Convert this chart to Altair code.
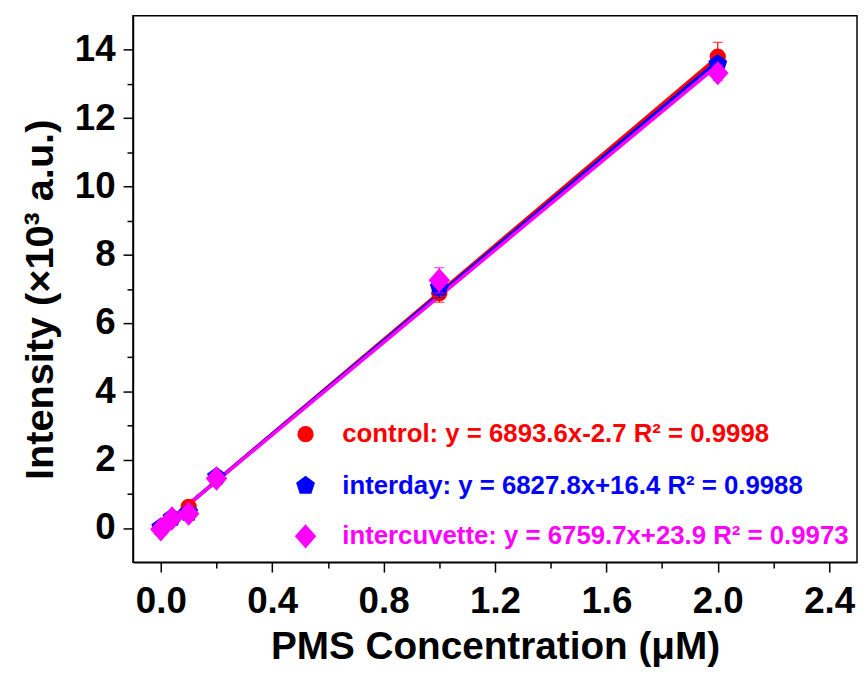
import altair as alt
import pandas as pd

# ---------------- data ----------------
conc = [0.0, 0.04, 0.1, 0.2, 1.0, 2.0]
series_names = ["control", "interday", "intercuvette"]
control = [-0.02, 0.27, 0.62, 1.45, 6.87, 13.80]
interday = [0.02, 0.30, 0.45, 1.50, 7.04, 13.58]
intercuvette = [-0.04, 0.28, 0.42, 1.45, 7.25, 13.32]
control_err = [0.04, 0.05, 0.08, 0.08, 0.26, 0.42]
interday_err = [0.04, 0.06, 0.06, 0.10, 0.30, 0.20]
intercuvette_err = [0.05, 0.05, 0.06, 0.08, 0.37, 0.22]
slopes = [6893.6, 6827.8, 6759.7]
intercepts = [-2.7, 16.4, 23.9]
r_squared = [0.9998, 0.9988, 0.9973]
fit_range = [0.0, 2.0]

x_ticks = [0.0, 0.4, 0.8, 1.2, 1.6, 2.0, 2.4]
x_minor = [0.2, 0.6, 1.0, 1.4, 1.8, 2.2]
y_ticks = [0, 2, 4, 6, 8, 10, 12, 14]
y_minor = [1, 3, 5, 7, 9, 11, 13]

x_title = "PMS Concentration (\u03bcM)"
y_title = "Intensity (\u00d710\u00b3 a.u.)"

# ---------------- styles ----------------
colors = ["#FF0000", "#0000FF", "#FF00FF"]
PENTAGON = "M0,-1L0.951,-0.309L0.588,0.809L-0.588,0.809L-0.951,-0.309Z"
DIAMOND = "M0,-1.13L1,0L0,1.13L-1,0Z"
shapes = ["circle", PENTAGON, DIAMOND]
sizes = [270, 400, 470]
FONT = "Liberation Sans"
W, H = 730, 551
legend_sym_x = 174
legend_txt_x = 211
legend_rows = [422, 474, 525]

values = [control, interday, intercuvette]
errors = [control_err, interday_err, intercuvette_err]

xscale = alt.Scale(domain=[-0.1, 2.5], nice=False, zero=False)
yscale = alt.Scale(domain=[-1, 15], nice=False, zero=False)

all_pts = pd.DataFrame({
    "x": conc * 3,
    "y": control + interday + intercuvette,
})

axes_main = alt.Chart(all_pts).mark_point(opacity=0).encode(
    x=alt.X("x:Q", scale=xscale, axis=alt.Axis(
        orient="bottom", values=x_ticks, format=".1f", grid=False,
        title=x_title, titleFont=FONT, titleFontSize=39, titleFontWeight="bold",
        titleColor="black", titlePadding=8,
        labelFont=FONT, labelFontSize=37, labelFontWeight="bold", labelColor="black",
        labelPadding=12, tickSize=10, tickWidth=1.5, tickColor="black",
        domainColor="black", domainWidth=1.5, labelFlush=False)),
    y=alt.Y("y:Q", scale=yscale, axis=alt.Axis(
        orient="left", values=y_ticks, format="d", grid=False,
        title=y_title, titleFont=FONT, titleFontSize=40, titleFontWeight="bold",
        titleColor="black", titleAngle=270, titleX=-81, titleY=286,
        titleBaseline="alphabetic", titleAlign="center",
        labelFont=FONT, labelFontSize=37, labelFontWeight="bold", labelColor="black",
        labelPadding=8, tickSize=10, tickWidth=1.5, tickColor="black",
        domainColor="black", domainWidth=1.5, labelFlush=False)),
)

axes_minor = alt.Chart(all_pts).mark_point(opacity=0).encode(
    x=alt.X("x:Q", scale=xscale, axis=alt.Axis(
        orient="bottom", values=x_minor, labels=False, title=None, grid=False,
        domain=False, tickSize=6, tickWidth=1.5, tickColor="black")),
    y=alt.Y("y:Q", scale=yscale, axis=alt.Axis(
        orient="left", values=y_minor, labels=False, title=None, grid=False,
        domain=False, tickSize=6, tickWidth=1.5, tickColor="black")),
)

layers = [axes_main, axes_minor]

# regression lines
for i, name in enumerate(series_names):
    fit = pd.DataFrame({
        "x": fit_range,
        "y": [(slopes[i] * v + intercepts[i]) / 1000.0 for v in fit_range],
    })
    layers.append(alt.Chart(fit).mark_line(color=colors[i], strokeWidth=3.5).encode(
        x=alt.X("x:Q", scale=xscale, axis=None),
        y=alt.Y("y:Q", scale=yscale, axis=None),
    ))

# markers + error bars
for i, name in enumerate(series_names):
    df = pd.DataFrame({
        "x": conc,
        "y": values[i],
        "lo": [v - e for v, e in zip(values[i], errors[i])],
        "hi": [v + e for v, e in zip(values[i], errors[i])],
    })
    layers.append(alt.Chart(df).mark_point(
        filled=True, opacity=1, color=colors[i], shape=shapes[i], size=sizes[i]
    ).encode(
        x=alt.X("x:Q", scale=xscale, axis=None),
        y=alt.Y("y:Q", scale=yscale, axis=None),
    ))
    layers.append(alt.Chart(df).mark_rule(color=colors[i], strokeWidth=1.2).encode(
        x=alt.X("x:Q", scale=xscale, axis=None),
        y=alt.Y("lo:Q", scale=yscale, axis=None),
        y2="hi:Q",
    ))
    for col in ["lo", "hi"]:
        layers.append(alt.Chart(df).mark_tick(
            color=colors[i], orient="horizontal", size=10, thickness=1.2
        ).encode(
            x=alt.X("x:Q", scale=xscale, axis=None),
            y=alt.Y(f"{col}:Q", scale=yscale, axis=None),
        ))

# legend (symbol + coloured equation text)
for i, name in enumerate(series_names):
    sign = "+" if intercepts[i] >= 0 else "-"
    label = (f"{name}: y = {slopes[i]:.1f}x{sign}{abs(intercepts[i]):.1f} "
             f"R\u00b2 = {r_squared[i]:.4f}")
    leg = pd.DataFrame({"label": [label]})
    layers.append(alt.Chart(leg).mark_point(
        filled=True, opacity=1, color=colors[i], shape=shapes[i], size=sizes[i]
    ).encode(x=alt.value(legend_sym_x), y=alt.value(legend_rows[i])))
    layers.append(alt.Chart(leg).mark_text(
        align="left", baseline="middle", font=FONT, fontSize=26,
        fontWeight="bold", color=colors[i]
    ).encode(x=alt.value(legend_txt_x), y=alt.value(legend_rows[i]), text="label:N"))

chart = alt.layer(*layers).resolve_axis(
    x="independent", y="independent"
).properties(
    width=W, height=H,
    autosize=alt.AutoSizeParams(type="none"),
    padding={"left": 126, "top": 5, "right": 2, "bottom": 105},
    background="white",
).configure_view(
    stroke="black", strokeWidth=1.5
)

chart.save("out.html", embed_options={"renderer": "svg", "actions": False})
